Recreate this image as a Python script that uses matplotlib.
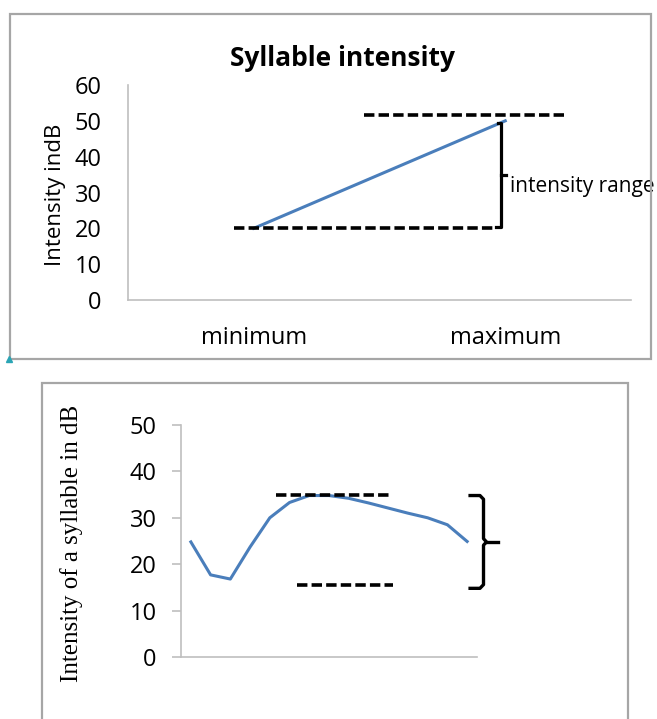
import matplotlib.pyplot as plt
from matplotlib.patches import Rectangle
from matplotlib.lines import Line2D

plt.rcParams['font.family'] = ['Open Sans', 'DejaVu Sans']
plt.rcParams['lines.scale_dashes'] = False

#Top chart data
topLabels = ['minimum', 'maximum']
topValues = [20, 50]
topTicks = [0, 10, 20, 30, 40, 50, 60]
topHigh = 51.5
topLow = 20

#Bottom chart data
bottomValues = [24.8, 17.7, 16.8, 23.7, 30.0, 33.3, 34.8, 34.8, 34.2, 33.2, 32.1, 31.0, 30.0, 28.5, 24.9]
bottomTicks = [0, 10, 20, 30, 40, 50]
bottomHigh = 35.0
bottomLow = 15.6
braceTop = 34.8
braceBottom = 14.8

lineColor = '#4a7ebb'
axisColor = '#bfbfbf'
borderColor = '#a6a6a6'
dash = (0, (7.5, 3))

fig = plt.figure(figsize=(6.57, 7.19), dpi=100)
W, H = 657, 719

def figBox(left, top, right, bottom):
	return [left / W, 1 - bottom / H, (right - left) / W, (bottom - top) / H]

#Panel borders
fig.add_artist(Rectangle((10 / W, 1 - 359 / H), 641 / W, 345 / H, transform=fig.transFigure,
	fill=False, edgecolor=borderColor, lw=1.6))
fig.add_artist(Rectangle((42 / W, -0.05), 586 / W, 0.05 + 1 - 383 / H, transform=fig.transFigure,
	fill=False, edgecolor=borderColor, lw=1.6))
fig.add_artist(Line2D([9 / W], [1 - 359 / H], marker='^', color='#2aa5b5', markersize=4,
	transform=fig.transFigure))

#Top chart
ax1 = fig.add_axes(figBox(128, 85, 631, 300))
ax1.plot(range(len(topValues)), topValues, color=lineColor, lw=2.2)
ax1.set_xlim(-0.5, len(topLabels) - 0.5)
ax1.set_ylim(0, 60)
ax1.set_xticks(range(len(topLabels)))
ax1.set_xticklabels(topLabels)
ax1.set_yticks(topTicks)
ax1.tick_params(axis='x', length=0, pad=19, labelsize=17)
ax1.tick_params(axis='y', length=0, pad=19, labelsize=17)
for side in ['top', 'right']:
	ax1.spines[side].set_visible(False)
for side in ['left', 'bottom']:
	ax1.spines[side].set_color(axisColor)
	ax1.spines[side].set_linewidth(1.2)
ax1.set_ylabel('Intensity indB', fontsize=16)
ax1.yaxis.set_label_coords(-0.123, 0.49)
fig.text(342 / W, 1 - 58 / H, 'Syllable intensity', ha='center', va='center', fontsize=19, fontweight='bold')

#Dashed reference lines and bracket
ax1.plot([0.44, 1.24], [topHigh, topHigh], color='black', lw=2.6, linestyle=dash)
ax1.plot([-0.08, 0.95], [topLow, topLow], color='black', lw=2.6, linestyle=dash)
xb = 0.984
ax1.plot([xb - 0.012, xb, xb, xb - 0.022], [topValues[1] - 0.7, topValues[1] - 0.7, topLow + 0.5, topLow + 0.5],
	color='black', lw=2.3, solid_joinstyle='round', clip_on=False)
midRange = (topValues[1] + topLow) / 2
ax1.plot([xb, xb + 0.018], [midRange, midRange], color='black', lw=2.3, clip_on=False)
ax1.text(xb + 0.034, midRange - 3.3, 'intensity range', fontsize=15, va='center', ha='left', clip_on=False)

#Bottom chart
ax2 = fig.add_axes(figBox(181, 425, 477, 657))
ax2.plot(range(len(bottomValues)), bottomValues, color=lineColor, lw=2.2)
ax2.set_xlim(-0.5, len(bottomValues) - 0.5)
ax2.set_ylim(0, 50)
ax2.set_yticks(bottomTicks)
ax2.set_xticks([])
ax2.tick_params(axis='y', length=6.5, width=1.2, color=axisColor, pad=11, labelsize=17)
for side in ['top', 'right']:
	ax2.spines[side].set_visible(False)
for side in ['left', 'bottom']:
	ax2.spines[side].set_color(axisColor)
	ax2.spines[side].set_linewidth(1.2)
ax2.set_ylabel('Intensity of a syllable in dB', fontsize=18, family='Liberation Serif')
ax2.yaxis.set_label_coords(-0.33, 0.49)

ax2.plot([4.3, 10.1], [bottomHigh, bottomHigh], color='black', lw=2.6, linestyle=dash)
ax2.plot([5.4, 10.25], [bottomLow, bottomLow], color='black', lw=2.6, linestyle=dash)

#Curly brace to the right of the curve
braceMid = (braceTop + braceBottom) / 2
bx = 14.83
ax2.plot([bx - 0.68, bx - 0.18, bx, bx, bx + 0.15, bx, bx, bx - 0.18, bx - 0.68],
	[braceTop, braceTop, braceTop - 0.8, braceMid + 0.7, braceMid, braceMid - 0.7, braceBottom + 0.8, braceBottom, braceBottom],
	color='black', lw=2.4, solid_joinstyle='round', clip_on=False)
ax2.plot([bx + 0.15, bx + 0.73], [braceMid, braceMid], color='black', lw=2.4, clip_on=False)

plt.savefig('out.png', dpi=100)
